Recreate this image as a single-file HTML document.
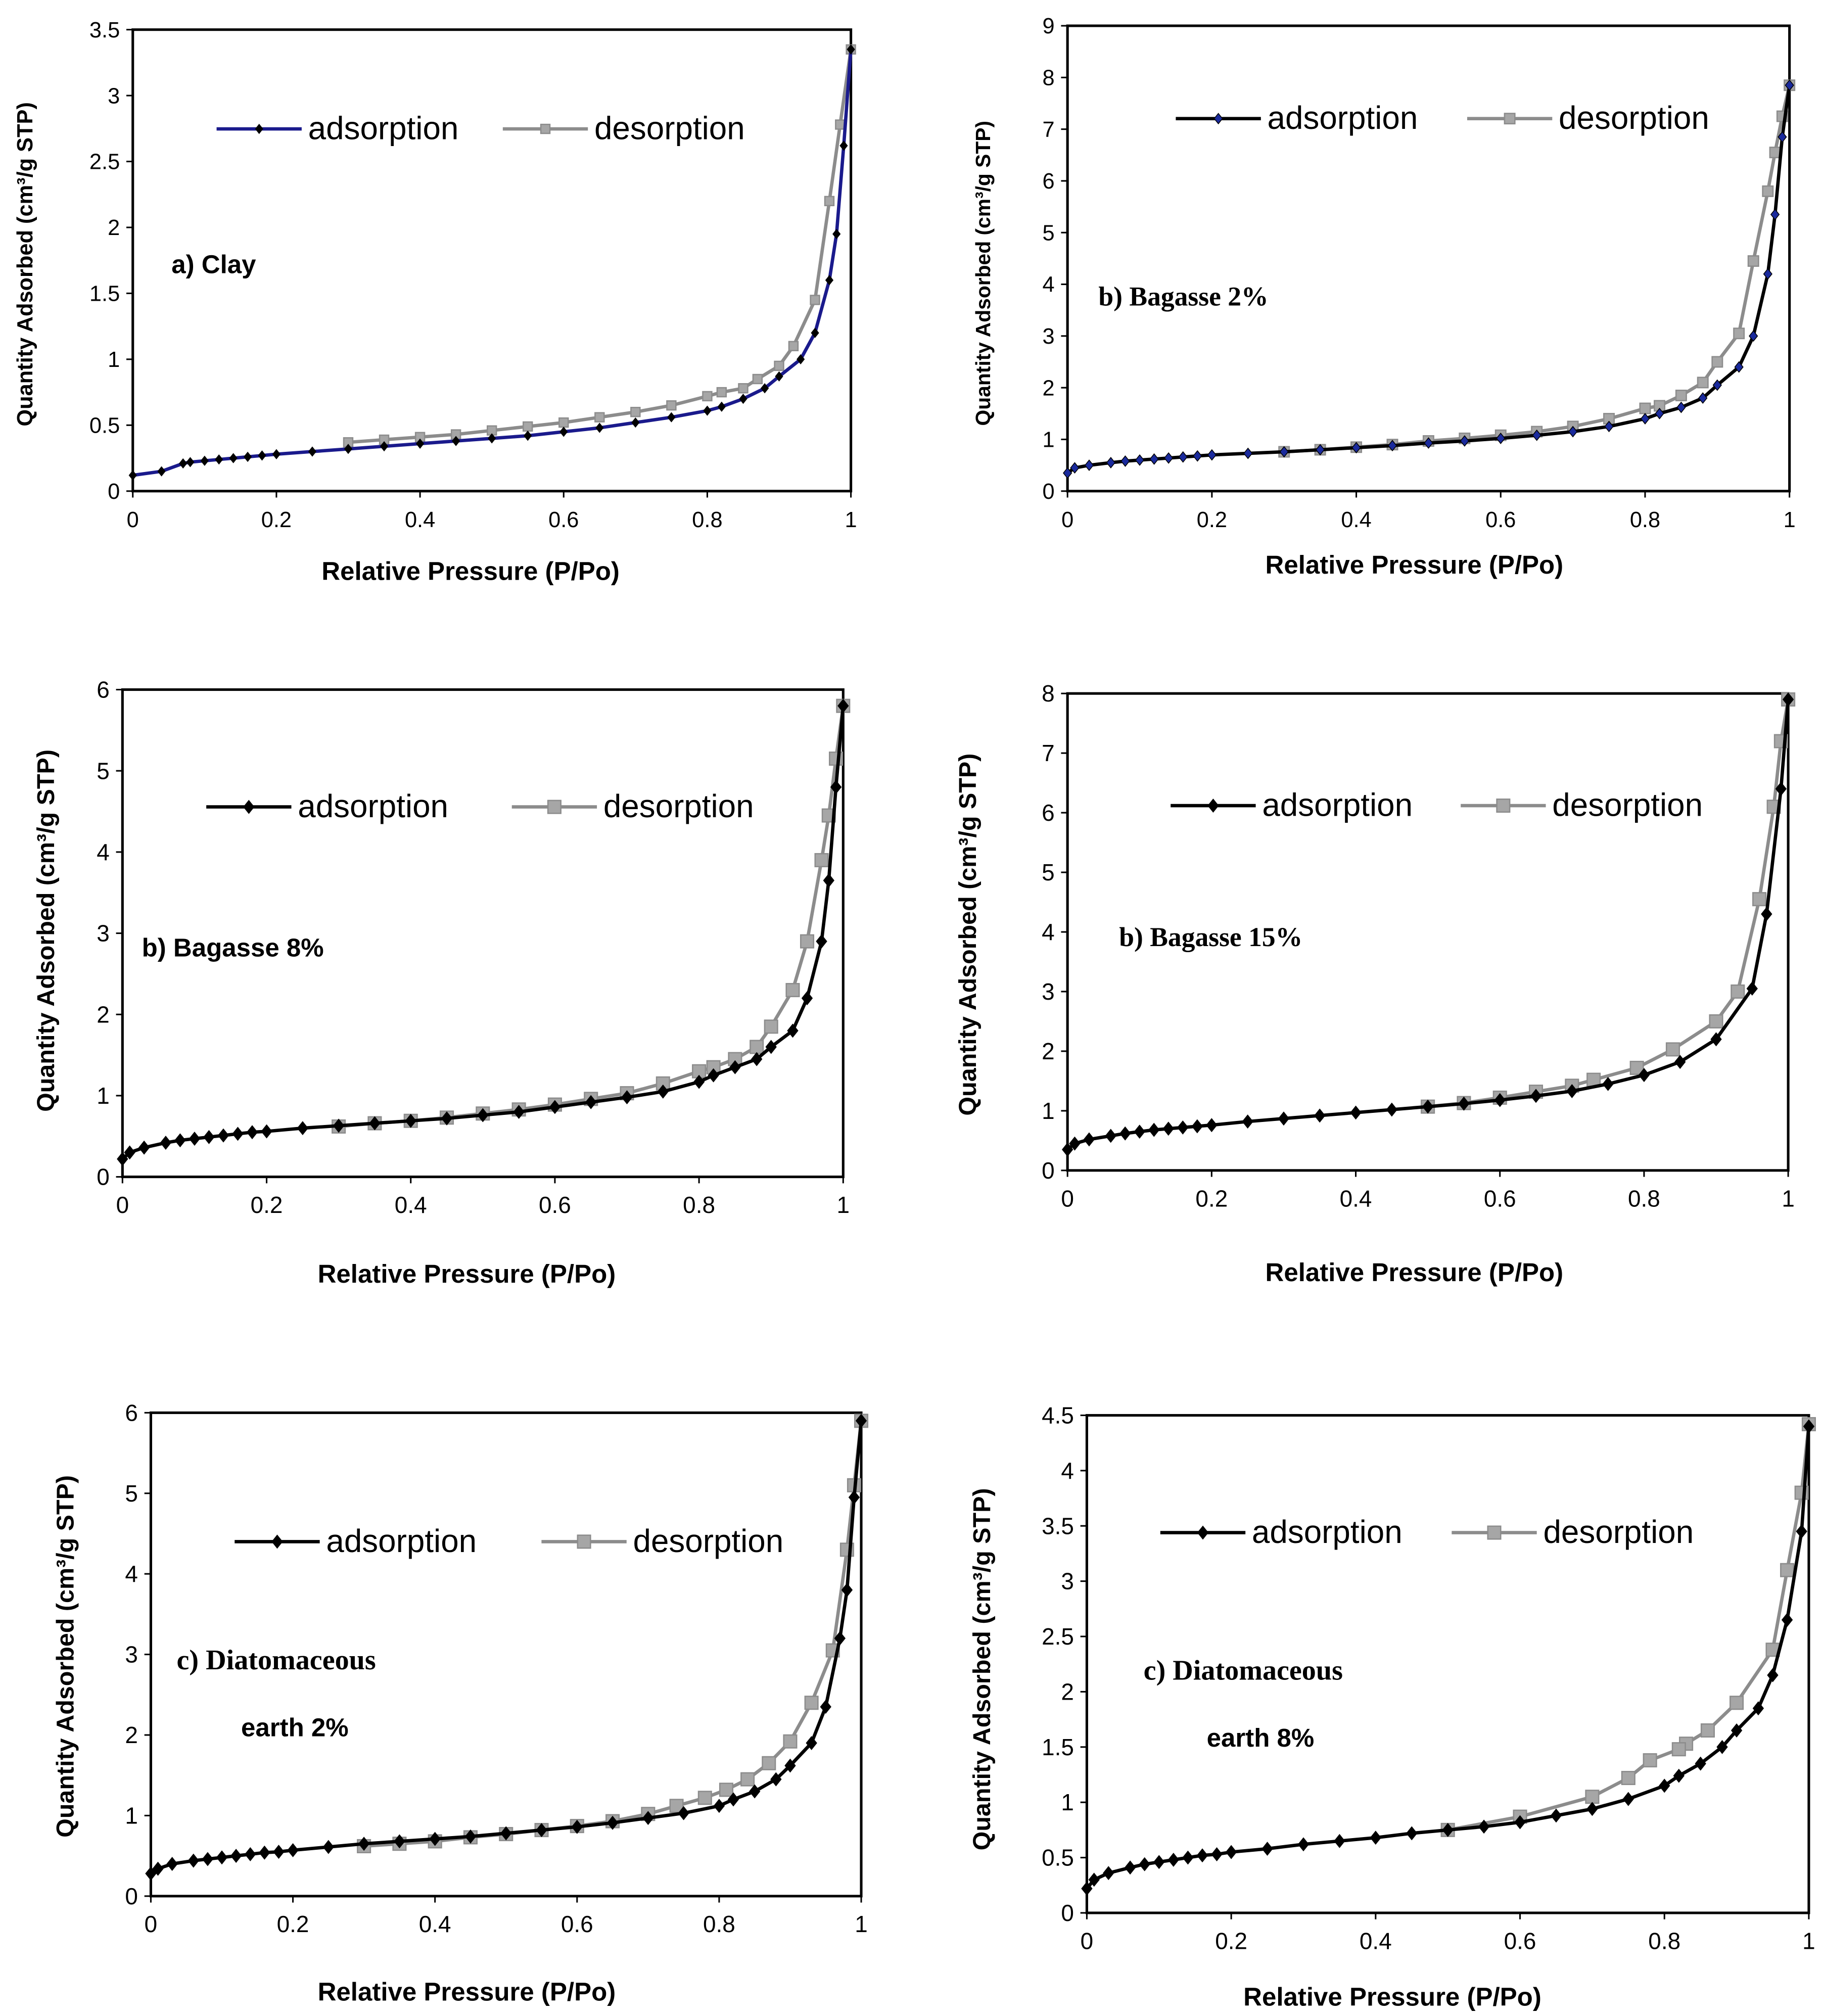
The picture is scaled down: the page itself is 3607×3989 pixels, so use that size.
<!DOCTYPE html>
<html><head><meta charset="utf-8">
<style>
html,body{margin:0;padding:0;background:#fff;}
svg{display:block;}
text{font-family:"Liberation Sans",Arial,sans-serif;}
</style></head>
<body>
<svg id="fig" xmlns="http://www.w3.org/2000/svg" width="3607" height="3989" viewBox="0 0 1414 1564" preserveAspectRatio="none"></svg>
<script>
// ---- Panel a) Clay ----
const aAdsX=[0,0.04,0.07,0.08,0.1,0.12,0.14,0.16,0.18,0.2,0.25,0.3,0.35,0.4,0.45,0.5,0.55,0.6,0.65,0.7,0.75,0.8,0.82,0.85,0.88,0.9,0.93,0.95,0.97,0.98,0.99,1];
const aAdsY=[0.12,0.15,0.21,0.22,0.23,0.24,0.25,0.26,0.27,0.28,0.3,0.32,0.34,0.36,0.38,0.4,0.42,0.45,0.48,0.52,0.56,0.61,0.64,0.7,0.78,0.87,1.0,1.2,1.6,1.95,2.62,3.35];
const aDesX=[1,0.985,0.97,0.95,0.92,0.9,0.87,0.85,0.82,0.8,0.75,0.7,0.65,0.6,0.55,0.5,0.45,0.4,0.35,0.3];
const aDesY=[3.35,2.78,2.2,1.45,1.1,0.95,0.85,0.78,0.75,0.72,0.65,0.6,0.56,0.52,0.49,0.46,0.43,0.41,0.39,0.37];
// ---- Panel b) Bagasse 2% ----
const bAdsX=[0,0.01,0.03,0.06,0.08,0.1,0.12,0.14,0.16,0.18,0.2,0.25,0.3,0.35,0.4,0.45,0.5,0.55,0.6,0.65,0.7,0.75,0.8,0.82,0.85,0.88,0.9,0.93,0.95,0.97,0.98,0.99,1];
const bAdsY=[0.35,0.45,0.5,0.55,0.58,0.6,0.62,0.64,0.66,0.68,0.7,0.73,0.76,0.8,0.84,0.88,0.93,0.97,1.02,1.08,1.15,1.25,1.4,1.5,1.62,1.8,2.05,2.4,3.0,4.2,5.35,6.85,7.85];
const bDesX=[1,0.99,0.98,0.97,0.95,0.93,0.9,0.88,0.85,0.82,0.8,0.75,0.7,0.65,0.6,0.55,0.5,0.45,0.4,0.35,0.3];
const bDesY=[7.85,7.25,6.55,5.8,4.45,3.05,2.5,2.1,1.85,1.65,1.6,1.4,1.25,1.15,1.08,1.02,0.97,0.9,0.85,0.8,0.76];
// ---- Panel c) Bagasse 8% ----
const cAdsX=[0,0.01,0.03,0.06,0.08,0.1,0.12,0.14,0.16,0.18,0.2,0.25,0.3,0.35,0.4,0.45,0.5,0.55,0.6,0.65,0.7,0.75,0.8,0.82,0.85,0.88,0.9,0.93,0.95,0.97,0.98,0.99,1];
const cAdsY=[0.22,0.3,0.36,0.42,0.45,0.47,0.49,0.51,0.53,0.55,0.56,0.6,0.63,0.66,0.69,0.72,0.76,0.8,0.86,0.92,0.98,1.05,1.17,1.25,1.35,1.45,1.6,1.8,2.2,2.9,3.65,4.8,5.8];
const cDesX=[1,0.99,0.98,0.97,0.95,0.93,0.9,0.88,0.85,0.82,0.8,0.75,0.7,0.65,0.6,0.55,0.5,0.45,0.4,0.35,0.3];
const cDesY=[5.8,5.15,4.45,3.9,2.9,2.3,1.85,1.6,1.45,1.35,1.3,1.15,1.03,0.96,0.89,0.83,0.78,0.73,0.69,0.66,0.62];
// ---- Panel d) Bagasse 15% ----
const dAdsX=[0,0.01,0.03,0.06,0.08,0.1,0.12,0.14,0.16,0.18,0.2,0.25,0.3,0.35,0.4,0.45,0.5,0.55,0.6,0.65,0.7,0.75,0.8,0.85,0.9,0.95,0.97,0.99,1];
const dAdsY=[0.35,0.45,0.52,0.58,0.62,0.65,0.68,0.7,0.72,0.74,0.76,0.82,0.87,0.92,0.97,1.02,1.07,1.12,1.18,1.25,1.33,1.45,1.6,1.82,2.2,3.05,4.3,6.4,7.9];
const dDesX=[1,0.99,0.98,0.96,0.93,0.9,0.84,0.79,0.73,0.7,0.65,0.6,0.55,0.5];
const dDesY=[7.9,7.2,6.1,4.55,3.0,2.5,2.03,1.72,1.52,1.42,1.32,1.22,1.13,1.07];
// ---- Panel e) Diatomaceous earth 2% ----
const eAdsX=[0,0.01,0.03,0.06,0.08,0.1,0.12,0.14,0.16,0.18,0.2,0.25,0.3,0.35,0.4,0.45,0.5,0.55,0.6,0.65,0.7,0.75,0.8,0.82,0.85,0.88,0.9,0.93,0.95,0.97,0.98,0.99,1];
const eAdsY=[0.28,0.34,0.4,0.44,0.46,0.48,0.5,0.52,0.54,0.55,0.57,0.61,0.65,0.68,0.71,0.74,0.78,0.82,0.86,0.91,0.97,1.03,1.12,1.2,1.3,1.45,1.62,1.9,2.35,3.2,3.8,4.95,5.9];
const eDesX=[1,0.99,0.98,0.96,0.93,0.9,0.87,0.84,0.81,0.78,0.74,0.7,0.65,0.6,0.55,0.5,0.45,0.4,0.35,0.3];
const eDesY=[5.9,5.1,4.3,3.05,2.4,1.92,1.65,1.45,1.32,1.22,1.12,1.02,0.93,0.87,0.82,0.77,0.73,0.68,0.65,0.62];
// ---- Panel f) Diatomaceous earth 8% ----
const fAdsX=[0,0.01,0.03,0.06,0.08,0.1,0.12,0.14,0.16,0.18,0.2,0.25,0.3,0.35,0.4,0.45,0.5,0.55,0.6,0.65,0.7,0.75,0.8,0.82,0.85,0.88,0.9,0.93,0.95,0.97,0.99,1];
const fAdsY=[0.22,0.3,0.36,0.41,0.44,0.46,0.48,0.5,0.52,0.53,0.55,0.58,0.62,0.65,0.68,0.72,0.75,0.78,0.82,0.88,0.94,1.03,1.15,1.24,1.35,1.5,1.65,1.85,2.15,2.65,3.45,4.4];
const fDesX=[1,0.99,0.97,0.95,0.9,0.86,0.83,0.82,0.78,0.75,0.7,0.6,0.5];
const fDesY=[4.42,3.8,3.1,2.38,1.9,1.65,1.53,1.48,1.38,1.22,1.05,0.87,0.75];

const xTicks=[0,0.2,0.4,0.6,0.8,1];
const xTickLabels=["0","0.2","0.4","0.6","0.8","1"];

const NS="http://www.w3.org/2000/svg";
const svg=document.getElementById('fig');
function el(tag,attrs,parent){const e=document.createElementNS(NS,tag);for(const k in attrs)e.setAttribute(k,attrs[k]);(parent||svg).appendChild(e);return e;}

const panels=[
 {id:'clay',x0:103,x1:660,y0:23,y1:381,ymax:3.5,ystep:0.5,ads:[aAdsX,aAdsY],des:[aDesX,aDesY],adsLine:'#1a1a8c',mk:3.5,
  leg:{y:100,a:168,d:390},ann:[{t:'a) Clay',x:133,y:212,serif:false,s:20}],xl:{x:365,y:450},yl:{x:25,y:205,s:17,t:'Quantity Adsorbed (cm³/g STP)'},tick:17},
 {id:'bagasse-2',x0:828,x1:1388,y0:20,y1:381,ymax:9,ystep:1,ads:[bAdsX,bAdsY],des:[bDesX,bDesY],adsLine:'#000',adsFill:'#1a2a9c',mk:4,
  leg:{y:92,a:912,d:1138},ann:[{t:'b) Bagasse 2%',x:852,y:237,serif:true,s:21}],xl:{x:1097,y:445},yl:{x:768,y:212,s:16,t:'Quantity Adsorbed (cm³/g STP)'},tick:17},
 {id:'bagasse-8',x0:95,x1:654,y0:535,y1:913,ymax:6,ystep:1,ads:[cAdsX,cAdsY],des:[cDesX,cDesY],adsLine:'#000',mk:5,
  leg:{y:626,a:160,d:397},ann:[{t:'b) Bagasse 8%',x:110,y:742,serif:false,s:20}],xl:{x:362,y:995},yl:{x:42,y:722,s:19,t:'Quantity Adsorbed (cm³/g STP)'},tick:18},
 {id:'bagasse-15',x0:828,x1:1387,y0:538,y1:908,ymax:8,ystep:1,ads:[dAdsX,dAdsY],des:[dDesX,dDesY],adsLine:'#000',mk:5,
  leg:{y:625,a:908,d:1133},ann:[{t:'b) Bagasse 15%',x:868,y:734,serif:true,s:21}],xl:{x:1097,y:994},yl:{x:757,y:725,s:19,t:'Quantity Adsorbed (cm³/g STP)'},tick:18},
 {id:'diatomaceous-2',x0:117,x1:668,y0:1096,y1:1471,ymax:6,ystep:1,ads:[eAdsX,eAdsY],des:[eDesX,eDesY],adsLine:'#000',mk:5,
  leg:{y:1196,a:182,d:420},ann:[{t:'c) Diatomaceous',x:137,y:1295,serif:true,s:22},{t:'earth 2%',x:187,y:1347,serif:false,s:20}],xl:{x:362,y:1552},yl:{x:57,y:1285,s:19,t:'Quantity Adsorbed (cm³/g STP)'},tick:18},
 {id:'diatomaceous-8',x0:843,x1:1403,y0:1098,y1:1484,ymax:4.5,ystep:0.5,ads:[fAdsX,fAdsY],des:[fDesX,fDesY],adsLine:'#000',mk:5,
  leg:{y:1189,a:900,d:1126},ann:[{t:'c) Diatomaceous',x:887,y:1303,serif:true,s:22},{t:'earth 8%',x:936,y:1355,serif:false,s:20}],xl:{x:1080,y:1556},yl:{x:768,y:1295,s:19,t:'Quantity Adsorbed (cm³/g  STP)'},tick:18}
];

function diamond(g,x,y,r,fill){return el('polygon',{points:`${x},${y-r} ${x+r*0.8},${y} ${x},${y+r} ${x-r*0.8},${y}`,fill:fill,stroke:'#000','stroke-width':0.6},g);}
function square(g,x,y,r){return el('rect',{x:x-r,y:y-r,width:2*r,height:2*r,fill:'#a6a6a6',stroke:'#8c8c8c','stroke-width':1},g);}

panels.forEach(P=>{
 const g=el('g',{});
 
 
 const sx=v=>P.x0+(P.x1-P.x0)*v;
 const sy=v=>P.y1-(P.y1-P.y0)*v/P.ymax;
 const box=el('rect',{x:P.x0,y:P.y0,width:P.x1-P.x0,height:P.y1-P.y0,fill:'none',stroke:'#000','stroke-width':2},g);
 
 
 const n=Math.round(P.ymax/P.ystep);
 for(let i=0;i<=n;i++){const v=i*P.ystep;const y=sy(v);
  el('line',{x1:P.x0-5,x2:P.x0,y1:y,y2:y,stroke:'#000','stroke-width':1.2},g);
  const t=el('text',{x:P.x0-10,y:y+P.tick*0.35,'text-anchor':'end','font-size':P.tick,fill:'#000'},g);
  t.textContent=String(+v.toFixed(1));
  
  
 }
 xTicks.forEach((v,i)=>{const x=sx(v);
  el('line',{x1:x,x2:x,y1:P.y1,y2:P.y1+5,stroke:'#000','stroke-width':1.2},g);
  const t=el('text',{x:x,y:P.y1+28,'text-anchor':'middle','font-size':P.tick,fill:'#000'},g);
  t.textContent=xTickLabels[i];
  
  
 });
 const dpts=P.des[0].map((x,i)=>sx(x)+','+sy(P.des[1][i])).join(' ');
 const dl=el('polyline',{points:dpts,fill:'none',stroke:'#8c8c8c','stroke-width':2.6,'stroke-linejoin':'round'},g);
 
 
 P.des[0].forEach((x,i)=>{const m=square(g,sx(x),sy(P.des[1][i]),P.mk);
  
  });
 const apts=P.ads[0].map((x,i)=>sx(x)+','+sy(P.ads[1][i])).join(' ');
 const al=el('polyline',{points:apts,fill:'none',stroke:P.adsLine,'stroke-width':2.6,'stroke-linejoin':'round'},g);
 
 
 P.ads[0].forEach((x,i)=>{const m=diamond(g,sx(x),sy(P.ads[1][i]),P.mk,P.adsFill||'#000');
  
  });
 const L=P.leg;
 const la=el('g',{},g);
 
 
 el('line',{x1:L.a,x2:L.a+66,y1:L.y,y2:L.y,stroke:P.adsLine,'stroke-width':2.6},la);
 diamond(la,L.a+33,L.y,P.mk,P.adsFill||'#000');
 const lt=el('text',{x:L.a+71,y:L.y+8,'font-size':25,fill:'#000'},la);lt.textContent='adsorption';
 const ld=el('g',{},g);
 
 
 el('line',{x1:L.d,x2:L.d+66,y1:L.y,y2:L.y,stroke:'#8c8c8c','stroke-width':2.6},ld);
 square(ld,L.d+33,L.y,P.mk);
 const dt=el('text',{x:L.d+71,y:L.y+8,'font-size':25,fill:'#000'},ld);dt.textContent='desorption';
 P.ann.forEach(a=>{const t=el('text',{x:a.x,y:a.y,'font-size':a.s,'font-weight':'bold',fill:'#000'},g);
  if(a.serif)t.setAttribute('style','font-family:"Liberation Serif",serif');
  t.textContent=a.t;
  
  });
 const xt=el('text',{x:P.xl.x,y:P.xl.y,'text-anchor':'middle','font-size':20,'font-weight':'bold',fill:'#000'},g);
 xt.textContent='Relative Pressure (P/Po)';
 
 
 const yt=el('text',{x:0,y:0,'text-anchor':'middle','font-size':P.yl.s,'font-weight':'bold',fill:'#000',transform:`translate(${P.yl.x},${P.yl.y}) rotate(-90)`},g);
 yt.textContent=P.yl.t;
 
 
});
</script>
</body></html>
